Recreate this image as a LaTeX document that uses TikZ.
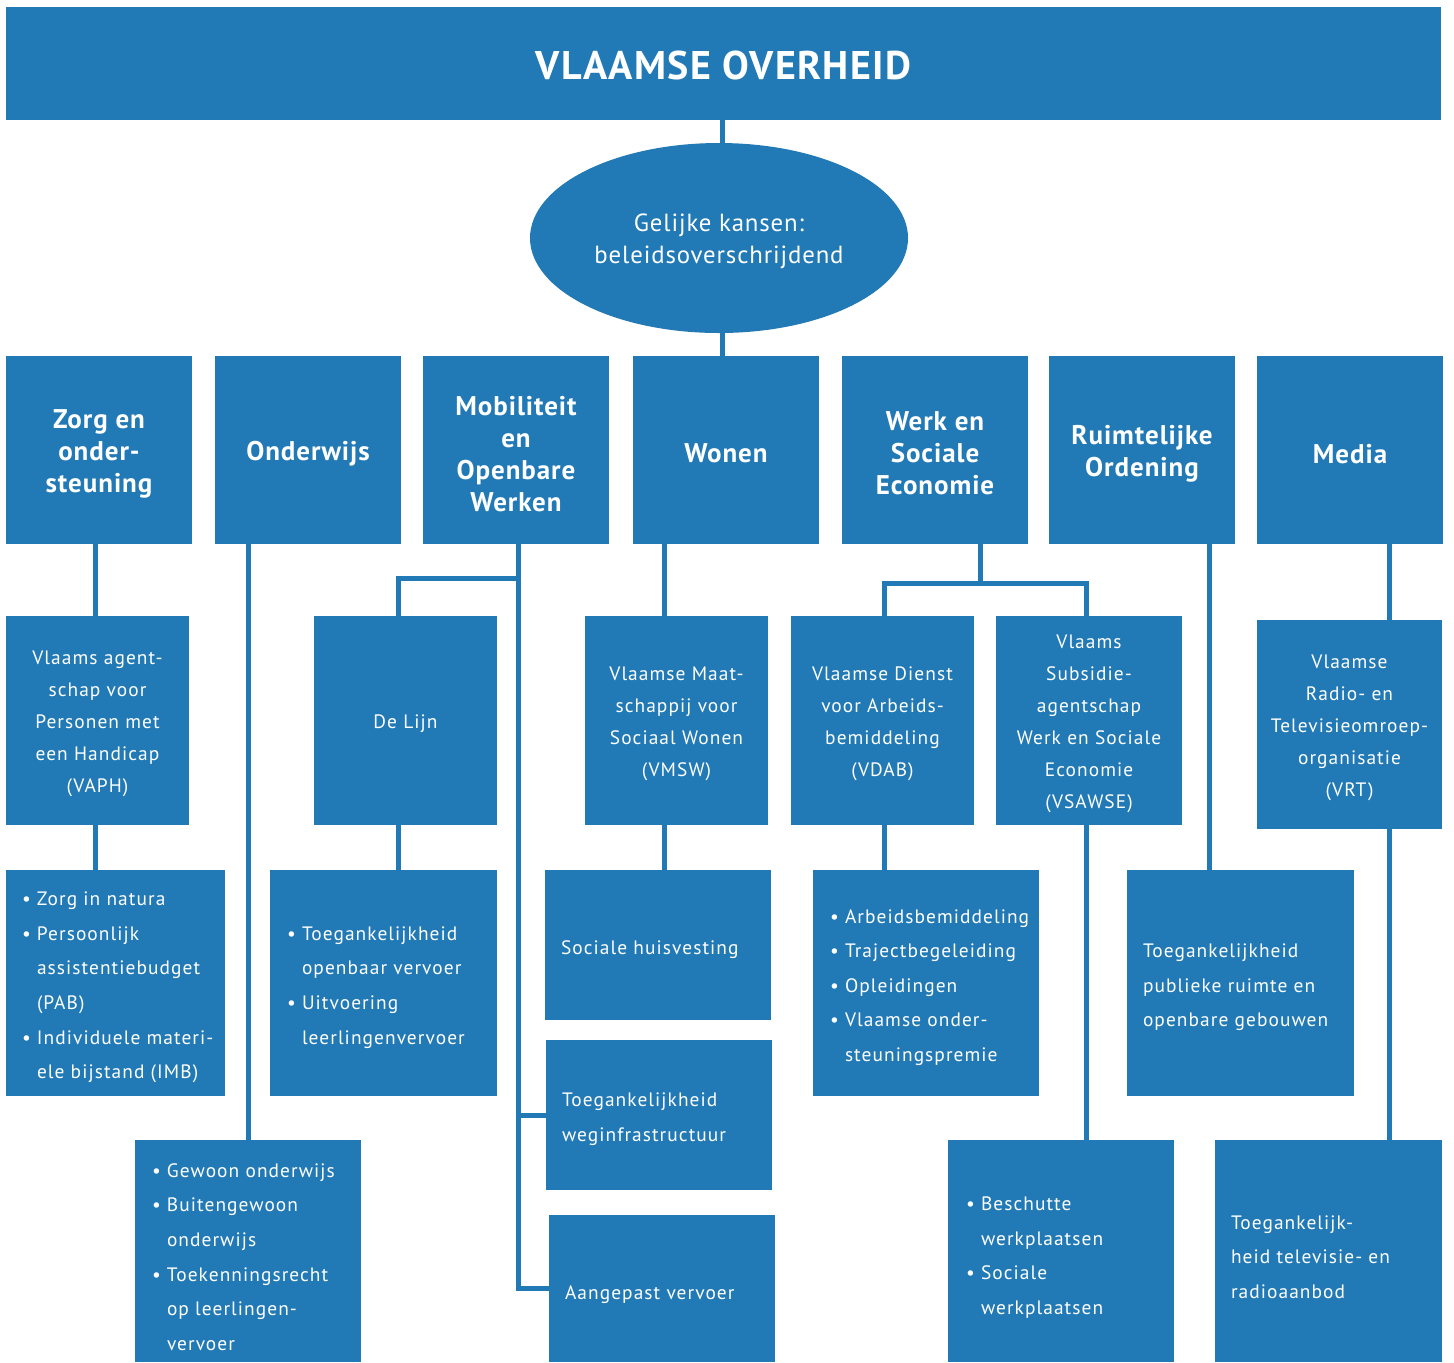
\documentclass[tikz,border=0pt]{standalone}
\usepackage{fontspec}
\setmainfont{PT Sans}[LetterSpace=5.5]
\newfontfamily\headfont{PT Sans}[LetterSpace=3.5]
\usetikzlibrary{shapes.geometric}
\definecolor{vblue}{RGB}{33,121,182}
\newcommand\vbul{\makebox[7.5pt][l]{\textbullet}}
\newcommand\vind{\hspace*{7.5pt}}
\newcommand\mkbox[7]{%
  \pgfmathsetmacro\bxcx{(#2+#4)/2}%
  \pgfmathsetmacro\bxcy{(#3+#5)/2}%
  \pgfmathsetmacro\bxw{(#4-#2)/2}%
  \pgfmathsetmacro\bxh{(#5-#3)/2}%
  \node[box,minimum width=\bxw pt,minimum height=\bxh pt] (#1) at (\bxcx,\bxcy) {};
  \node[btext,#6] (#1t) at ([yshift=-1.8pt]#1.center) {#7};}
\tikzset{
  box/.style={fill=vblue,inner sep=0pt},
  btext/.style={inner sep=0pt,text=white,align=center},
  head/.style={font=\headfont\fontsize{13.5}{16}\selectfont\bfseries},
  mid/.style={font=\fontsize{9.7}{16}\selectfont},
  ltext/.style={anchor=west,inner sep=0pt,text=white,align=left,font=\fontsize{9.7}{17.3}\selectfont},
  conn/.style={draw=vblue,line width=2.5pt}
}
\begin{document}
\begin{tikzpicture}[x=0.5pt,y=-0.5pt]
\useasboundingbox (0,0) rectangle (1454,1362);
% title
\mkbox{title}{6}{7}{1441}{120}{font=\headfont\fontsize{20}{24}\selectfont\bfseries,yshift=0.6pt}{VLAAMSE OVERHEID}
\node[ellipse,fill=vblue,inner sep=0pt,minimum width=189pt,minimum height=95pt] (ell) at (719,238) {};
\node[btext,font=\headfont\fontsize{12.4}{16}\selectfont] (ellt) at ([yshift=-1.8pt]ell.center) {Gelijke kansen:\\beleidsoverschrijdend};
% row 1
\mkbox{zorg}{6}{356}{192}{544}{head}{Zorg en\\onder-\\steuning}
\mkbox{onderwijs}{215}{356}{401}{544}{head}{Onderwijs}
\mkbox{mob}{423}{356}{609}{544}{head}{Mobiliteit\\en\\Openbare\\Werken}
\mkbox{wonen}{633}{356}{819}{544}{head}{Wonen}
\mkbox{werk}{842}{356}{1028}{544}{head}{Werk en\\Sociale\\Economie}
\mkbox{ruimt}{1049}{356}{1235}{544}{head}{Ruimtelijke\\Ordening}
\mkbox{media}{1257}{356}{1443}{544}{head}{Media}
% row 2
\mkbox{vaph}{6}{616}{189}{825}{mid}{Vlaams agent-\\schap voor\\Personen met\\een Handicap\\(VAPH)}
\mkbox{delijn}{314}{616}{497}{825}{mid}{De Lijn}
\mkbox{vmsw}{585}{616}{768}{825}{mid}{Vlaamse Maat-\\schappij voor\\Sociaal Wonen\\(VMSW)}
\mkbox{vdab}{791}{616}{974}{825}{mid}{Vlaamse Dienst\\voor Arbeids-\\bemiddeling\\(VDAB)}
\mkbox{vsawse}{996}{616}{1182}{825}{mid}{Vlaams\\Subsidie-\\agentschap\\Werk en Sociale\\Economie\\(VSAWSE)}
\mkbox{vrt}{1257}{620}{1442}{829}{mid}{Vlaamse\\Radio- en\\Televisieomroep-\\organisatie\\(VRT)}
% row 3 and 4 boxes
\mkbox{zorgb}{6}{870}{225}{1096}{}{}
\mkbox{delijnb}{270}{870}{497}{1096}{}{}
\mkbox{soc}{545}{870}{771}{1020}{}{}
\mkbox{vdabb}{813}{870}{1039}{1096}{}{}
\mkbox{pub}{1127}{870}{1354}{1096}{}{}
\mkbox{weg}{546}{1040}{772}{1190}{}{}
\mkbox{aang}{549}{1215}{775}{1362}{}{}
\mkbox{ondb}{135}{1140}{361}{1362}{}{}
\mkbox{besch}{948}{1140}{1174}{1362}{}{}
\mkbox{tv}{1215}{1140}{1442}{1362}{}{}
% texts
\node[ltext] (zorgbt) at ([xshift=8pt,yshift=-2.2pt]zorgb.west) {\vbul Zorg in natura\\\vbul Persoonlijk\\\vind assistentiebudget\\\vind (PAB)\\\vbul Individuele materi-\\\vind ele bijstand (IMB)};
\node[ltext] (delijnbt) at ([xshift=8.5pt,yshift=-2.2pt]delijnb.west) {\vbul Toegankelijkheid\\\vind openbaar vervoer\\\vbul Uitvoering\\\vind leerlingenvervoer};
\node[ltext] (soct) at ([xshift=8pt,yshift=-2.2pt]soc.west) {Sociale huisvesting};
\node[ltext] (vdabbt) at ([xshift=8.5pt,yshift=-2.2pt]vdabb.west) {\vbul Arbeidsbemiddeling\\\vbul Trajectbegeleiding\\\vbul Opleidingen\\\vbul Vlaamse onder-\\\vind steuningspremie};
\node[ltext] (pubt) at ([xshift=8pt,yshift=-2.2pt]pub.west) {Toegankelijkheid\\publieke ruimte en\\openbare gebouwen};
\node[ltext] (wegt) at ([xshift=8pt,yshift=-2.2pt]weg.west) {Toegankelijkheid\\weginfrastructuur};
\node[ltext] (aangt) at ([xshift=8pt,yshift=-3.2pt]aang.west) {Aangepast vervoer};
\node[ltext] (ondbt) at ([xshift=8.5pt,yshift=-3pt]ondb.west) {\vbul Gewoon onderwijs\\\vbul Buitengewoon\\\vind onderwijs\\\vbul Toekenningsrecht\\\vind op leerlingen-\\\vind vervoer};
\node[ltext] (beschtt) at ([xshift=9pt,yshift=-3.2pt]besch.west) {\vbul Beschutte\\\vind werkplaatsen\\\vbul Sociale\\\vind werkplaatsen};
\node[ltext] (tvt) at ([xshift=8pt,yshift=-3pt]tv.west) {Toegankelijk-\\heid televisie- en\\radioaanbod};
% connectors
\draw[conn] ([xshift=1.5pt]ell.north) -- ([xshift=1.5pt]ell.north |- title.south);
\draw[conn] ([xshift=1.5pt]ell.south) -- ([xshift=1.5pt]ell.south |- wonen.north);
\draw[conn] ([xshift=-2pt]zorg.south) -- ([xshift=-2pt]zorg.south |- vaph.north);
\draw[conn] ([xshift=-1.25pt]vaph.south) -- ([xshift=-1.25pt]vaph.south |- zorgb.north);
\draw[conn] (ondb.north |- onderwijs.south) -- (ondb.north);
\draw[conn] ([xshift=1pt]mob.south) -- ([xshift=1pt]mob.south |- aang.west) -- (aang.west);
\draw[conn] ([xshift=1pt]mob.south |- weg.west) -- (weg.west);
\draw[conn] ([xshift=1pt]mob.south) -- ++(0,34) -| ([xshift=-3.75pt]delijn.north);
\draw[conn] ([xshift=-3.75pt]delijn.south) -- ([xshift=-3.75pt]delijn.south |- delijnb.north);
\draw[conn] ([xshift=-6.25pt]vmsw.north |- wonen.south) -- ([xshift=-6.25pt]vmsw.north);
\draw[conn] ([xshift=-6.25pt]vmsw.south) -- ([xshift=-6.25pt]vmsw.south |- soc.north);
\draw[conn] ([xshift=22.5pt]werk.south) -- ++(0,39) coordinate (wj);
\draw[conn] ([xshift=0.75pt]vdab.north) |- (wj) -| ([xshift=-1.5pt]vsawse.north);
\draw[conn] ([xshift=0.75pt]vdab.south) -- ([xshift=0.75pt]vdab.south |- vdabb.north);
\draw[conn] ([xshift=-1.5pt]vsawse.south) -- ([xshift=-1.5pt]vsawse.south |- besch.north);
\draw[conn] ([xshift=33.5pt]ruimt.south) -- ([xshift=33.5pt]ruimt.south |- pub.north);
\draw[conn] ([xshift=19.5pt]media.south) -- ([xshift=19.5pt]media.south |- vrt.north);
\draw[conn] ([xshift=19.75pt]vrt.south) -- ([xshift=19.75pt]vrt.south |- tv.north);
\end{tikzpicture}
\end{document}
